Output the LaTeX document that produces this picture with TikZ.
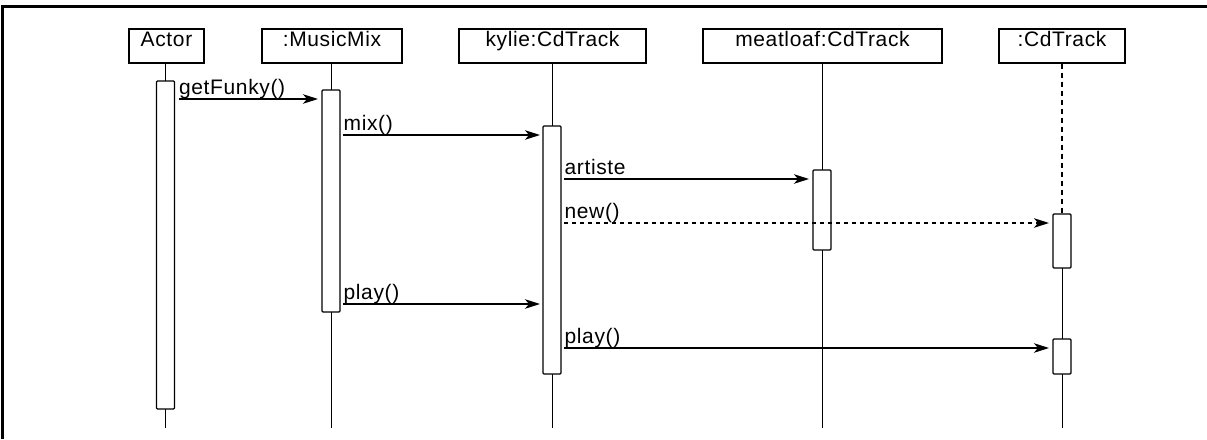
\documentclass[tikz,border=0pt]{standalone}
\usepackage{fontspec}
\setmainfont{Liberation Sans}[LetterSpace=3]
\usetikzlibrary{arrows.meta}
\tikzset{
  hdr/.style={draw, line width=1.3pt, inner xsep=0pt, inner ysep=0pt, text height=17pt, text depth=17pt, anchor=base, font=\fontsize{21}{24}\selectfont},
  act/.style={draw, fill=white, line width=1.3pt, rounded corners=1pt, minimum width=18pt, inner sep=0pt, outer sep=0pt},
  life/.style={line width=1pt},
  lifedash/.style={line width=1.1pt, dash pattern=on 5pt off 4pt},
  msg/.style={line width=1.3pt, -{Stealth[length=15pt,width=9.5pt,inset=4pt]}},
  msgdash/.style={msg, dash pattern=on 4pt off 4pt},
  lbl/.style={anchor=base west, inner sep=0pt, yshift=4.5pt, font=\fontsize{21}{24}\selectfont},
  frame/.style={line width=2.2pt}
}
\begin{document}
\begin{tikzpicture}[x=1pt,y=-1pt]
\useasboundingbox (0,0) rectangle (1207,439);
% frame
\coordinate (fb) at (2.5,439);
\coordinate (ftl) at (2.5,6.5);
\coordinate (ftr) at (1207,6.5);
\draw[frame] (fb) -- (ftl) -- (ftr);
% headers
\node[hdr, minimum width=75pt] (hA) at (166.5,46) {Actor};
\node[hdr, minimum width=140pt] (hM) at (332,46) {:MusicMix};
\node[hdr, minimum width=187pt] (hK) at (552.5,46) {kylie:CdTrack};
\node[hdr, minimum width=239pt] (hL) at (822.5,46) {meatloaf:CdTrack};
\node[hdr, minimum width=126pt] (hC) at (1062,46) {:CdTrack};
% lifeline ends
\coordinate (eA) at (165.5,428);
\coordinate (eM) at (331,428);
\coordinate (eK) at (552,428);
\coordinate (eL) at (822,428);
\coordinate (eC) at (1062,428);
\draw[life] (hA.south -| eA) -- (eA);
\draw[life] (hM.south -| eM) -- (eM);
\draw[life] (hK.south -| eK) -- (eK);
\draw[life] (hL.south -| eL) -- (eL);
% activations
\node[act, minimum height=328pt] (aA) at (165.5,245) {};
\node[act, minimum height=222pt] (aM) at (331,201) {};
\node[act, minimum height=248pt] (aK) at (552,250) {};
\node[act, minimum height=80pt] (aL) at (822,210) {};
\node[act, minimum height=54pt] (aC1) at (1062,241) {};
\node[act, minimum height=35pt] (aC2) at (1062,356.5) {};
% :CdTrack lifeline
\draw[lifedash] (hC.south -| eC) -- (aC1.north);
\draw[life] (aC1.south) -- (aC2.north);
\draw[life] (aC2.south) -- (eC);
% messages
\draw[msg] ([xshift=4pt]aA.east |- 0,99) -- node[lbl,pos=0]{getFunky()} ([xshift=-4pt]aM.west |- 0,99);
\draw[msg] ([xshift=3pt]aM.east |- 0,135) -- node[lbl,pos=0]{mix()} ([xshift=-3pt]aK.west |- 0,135);
\draw[msg] ([xshift=3pt]aK.east |- 0,179) -- node[lbl,pos=0]{artiste} ([xshift=-4pt]aL.west |- 0,179);
\draw[msgdash] ([xshift=3pt]aK.east |- 0,223) -- node[lbl,pos=0]{new()} ([xshift=-4pt]aC1.west |- 0,223);
\draw[msg] ([xshift=3pt]aM.east |- 0,304) -- node[lbl,pos=0]{play()} ([xshift=-3pt]aK.west |- 0,304);
\draw[msg] ([xshift=3pt]aK.east |- 0,348) -- node[lbl,pos=0]{play()} ([xshift=-4pt]aC2.west |- 0,348);
\end{tikzpicture}
\end{document}
